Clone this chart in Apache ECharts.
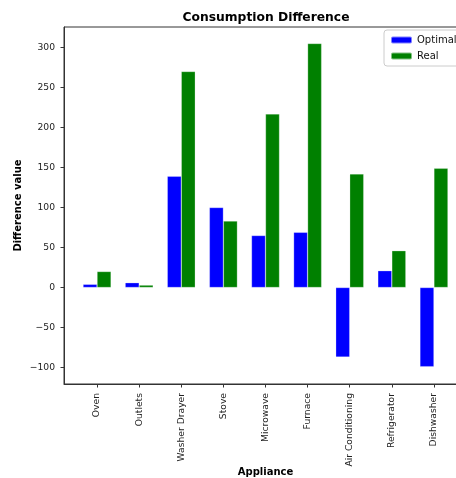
<!DOCTYPE html>
<html><head><meta charset="utf-8">
<script src="https://cdn.jsdelivr.net/npm/echarts@6/dist/echarts.min.js"></script>
<style>html,body{margin:0;padding:0;background:#fff}#c{width:456px;height:478px}</style>
</head><body><div id="c"></div>
<script>
const categories = ['Oven','Outlets','Washer Drayer','Stove','Microwave','Furnace','Air Conditioning','Refrigerator','Dishwasher'];
const optimal = [4, 6, 139, 100, 65, 69, -87, 21, -99];
const real = [20, 3, 270, 83, 217, 305, 142, 46, 149];
const yTicks = [-100, -50, 0, 50, 100, 150, 200, 250, 300];
const xTicks = categories.map((c, i) => i);

const font = 'DejaVu Sans';
const chart = echarts.init(document.getElementById('c'), null, {renderer: 'canvas'});
chart.setOption({
  animation: false,
  backgroundColor: '#fff',
  title: {
    text: 'Consumption Difference', left: 261, top: 7, textAlign: 'center',
    textStyle: {fontFamily: font, fontSize: 12.3, fontWeight: 'bold', color: '#000'}
  },
  legend: {
    left: 384, top: 30, orient: 'vertical', itemWidth: 21, itemHeight: 7, itemGap: 6,
    padding: [5, 8, 5, 6], borderColor: '#cccccc', borderWidth: 1, borderRadius: 3,
    backgroundColor: 'rgba(255,255,255,0.8)',
    textStyle: {fontFamily: font, fontSize: 10, color: '#111'},
    data: ['Optimal', 'Real']
  },
  grid: {left: 64, top: 27, width: 403, bottom: 94, show: true, borderColor: '#333', borderWidth: 1,
         containLabel: false, outerBoundsMode: 'none'},
  xAxis: {
    type: 'value', min: -0.785, max: 8.785,
    name: 'Appliance', nameLocation: 'middle', nameGap: 83, nameMoveOverlap: false,
    nameTextStyle: {fontFamily: font, fontSize: 10, fontWeight: 'bold', color: '#000'},
    splitLine: {show: false},
    axisLine: {show: true, onZero: false, lineStyle: {color: '#333'}},
    axisTick: {show: true, length: 3.5, customValues: xTicks, lineStyle: {color: '#333'}},
    axisLabel: {
      customValues: xTicks, rotate: 90, margin: 9,
      fontFamily: font, fontSize: 9.2, color: '#222',
      formatter: v => categories[Math.round(v)] || ''
    }
  },
  yAxis: {
    type: 'value', min: -120.6, max: 325.6,
    name: 'Difference value', nameLocation: 'middle', nameGap: 41, nameMoveOverlap: false,
    nameTextStyle: {fontFamily: font, fontSize: 10, fontWeight: 'bold', color: '#000'},
    splitLine: {show: false},
    axisLine: {show: true, onZero: false, lineStyle: {color: '#333'}},
    axisTick: {show: true, length: 3.5, customValues: yTicks, lineStyle: {color: '#333'}},
    axisLabel: {customValues: yTicks, margin: 9, fontFamily: font, fontSize: 9.2, color: '#222',
      formatter: v => String(v).replace('-', '\u2212')}
  },
  series: [
    {name: 'Optimal', type: 'bar', barWidth: 14, barGap: '0%',
     itemStyle: {color: '#0000ff', borderColor: 'rgba(255,255,255,0.5)', borderWidth: 0.5},
     data: optimal.map((v, i) => [i, v])},
    {name: 'Real', type: 'bar', barWidth: 14, barGap: '0%',
     itemStyle: {color: '#008000', borderColor: 'rgba(255,255,255,0.5)', borderWidth: 0.5},
     data: real.map((v, i) => [i, v])}
  ]
});
</script></body></html>
